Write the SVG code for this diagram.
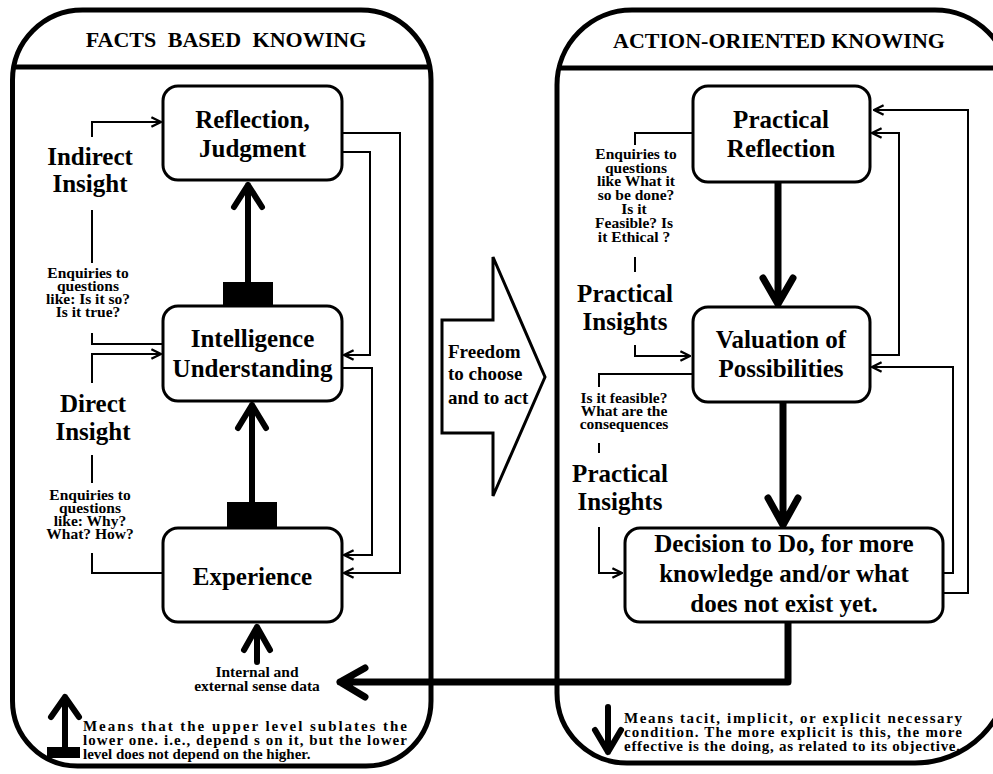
<svg xmlns="http://www.w3.org/2000/svg" width="993" height="774" viewBox="0 0 993 774">
<defs>
<style>
text{font-family:"Liberation Serif","Times New Roman",serif;font-weight:bold;fill:#000}
.hdr{font-size:22px;text-anchor:middle}
.nd{font-size:25px;text-anchor:middle}
.lb{font-size:25px;text-anchor:middle}
.sm{font-size:15.5px;text-anchor:middle}
.lg{font-size:15px}
.panel{fill:none;stroke:#000;stroke-width:5}
.box{fill:#fff;stroke:#000;stroke-width:3}
.thin{fill:none;stroke:#000;stroke-width:2}
.thick{fill:none;stroke:#000;stroke-width:6;stroke-linecap:round;stroke-linejoin:round}
.thick7{fill:none;stroke:#000;stroke-width:7;stroke-linecap:round;stroke-linejoin:round}
</style>
<marker id="ah" viewBox="0 0 10 10" refX="9" refY="5" markerWidth="12" markerHeight="12" markerUnits="userSpaceOnUse" orient="auto">
<path d="M1,1 L9,5 L1,9" fill="none" stroke="#000" stroke-width="2"/>
</marker>
</defs>
<rect width="993" height="774" fill="#fff"/>

<g id="panel-left">
<path class="panel" d="M82.5,10 H361 A70,70 0 0 1 431,80 V701 A65,65 0 0 1 366,766 H77.5 A65,65 0 0 1 12.5,701 V80 A70,70 0 0 1 82.5,10 Z"/>
<line class="panel" x1="12.5" y1="67" x2="431" y2="67"/>
<text class="hdr" x="226" y="47" word-spacing="6">FACTS BASED KNOWING</text>
</g>

<g id="panel-right">
<path class="panel" d="M632,10 H935 A75,75 0 0 1 1010,85 V668 A95,95 0 0 1 915,763 H627 A70,70 0 0 1 557,693 V85 A75,75 0 0 1 632,10 Z"/>
<line class="panel" x1="557" y1="68" x2="1010" y2="68"/>
<text class="hdr" x="779" y="48">ACTION-ORIENTED KNOWING</text>
</g>

<g id="connectors">
<path class="thin" d="M342,133 H400 V573 H344" marker-end="url(#ah)"/>
<path class="thin" d="M342,152 H370 V355 H344" marker-end="url(#ah)"/>
<path class="thin" d="M342,368 H372 V555 H344" marker-end="url(#ah)"/>
<path class="thin" d="M92,137 V122 H161" marker-end="url(#ah)"/>
<path class="thin" d="M92,210 V263"/>
<path class="thin" d="M92,333 V344 H163"/>
<path class="thin" d="M92,383 V354 H161" marker-end="url(#ah)"/>
<path class="thin" d="M92,455 V483"/>
<path class="thin" d="M92,553 V573 H163"/>
<path class="thick" d="M248,282 V185 M234,207 L248,185 L262,207"/>
<rect x="223" y="282" width="50" height="24" fill="#000"/>
<path class="thick" d="M252,502 V405 M238,428 L252,405 L266,428"/>
<rect x="227" y="502" width="50" height="26" fill="#000"/>
<path class="thick" d="M257,662 V627 M244,650 L257,627 L270,650"/>
<path class="thick7" d="M778,182 V304 M763,278 L778,304 L793,278"/>
<path class="thick7" d="M783,402 V525 M768,498 L783,525 L798,498"/>
<path class="thin" d="M870,355 H899 V133 H872" marker-end="url(#ah)"/>
<path class="thin" d="M943,573 H953 V367 H872" marker-end="url(#ah)"/>
<path class="thin" d="M943,593 H968 V110 H874" marker-end="url(#ah)"/>
<path class="thin" d="M693,133 H635 V145"/>
<path class="thin" d="M635,257 V272"/>
<path class="thin" d="M635,345 V356 H690" marker-end="url(#ah)"/>
<path class="thin" d="M693,374 H599 V387"/>
<path class="thin" d="M599,443 V453"/>
<path class="thin" d="M599,527 V573 H622" marker-end="url(#ah)"/>
<path class="thick7" d="M788,623 V682 H340 M365,668 L340,682 L365,697"/>
</g>

<g id="reflection">
<rect class="box" x="163" y="86" width="179" height="94" rx="15"/>
<text class="nd" x="252.5" y="128">Reflection,</text>
<text class="nd" x="252.5" y="157">Judgment</text>
</g>
<g id="intelligence">
<rect class="box" x="163" y="306" width="179" height="95" rx="15"/>
<text class="nd" x="252.5" y="347">Intelligence</text>
<text class="nd" x="252.5" y="377">Understanding</text>
</g>
<g id="experience">
<rect class="box" x="163" y="528" width="179" height="94" rx="15"/>
<text class="nd" x="252.5" y="585">Experience</text>
</g>

<g id="indirect-insight">
<text class="lb" x="90" y="165">Indirect</text>
<text class="lb" x="90" y="192">Insight</text>
</g>
<g id="enquiries-1">
<text class="sm" x="88" y="278">Enquiries to</text>
<text class="sm" x="88" y="291">questions</text>
<text class="sm" x="88" y="304">like: Is it so?</text>
<text class="sm" x="88" y="317">Is it true?</text>
</g>
<g id="direct-insight">
<text class="lb" x="93" y="412">Direct</text>
<text class="lb" x="93" y="440">Insight</text>
</g>
<g id="enquiries-2">
<text class="sm" x="90" y="500">Enquiries to</text>
<text class="sm" x="90" y="513">questions</text>
<text class="sm" x="90" y="526">like: Why?</text>
<text class="sm" x="90" y="539">What? How?</text>
</g>
<g id="sense-data">
<text class="sm" x="257" y="677">Internal and</text>
<text class="sm" x="257" y="691">external sense data</text>
</g>

<g id="legend-left">
<path class="thick" d="M65,747 V697 M51,717 L65,697 L79,717"/>
<rect x="47" y="747" width="33" height="11" fill="#000"/>
<text class="lg" x="83" y="731" textLength="324">Means that the upper level sublates the</text>
<text class="lg" x="83" y="745" textLength="324">lower one.  i.e.,  depend s on it, but the lower</text>
<text class="lg" x="83" y="759">level  does not depend on the higher.</text>
</g>

<g id="freedom">
<polygon points="442,320 493,320 493,257 545,377 493,496 493,433 442,433" fill="#fff" stroke="#000" stroke-width="3"/>
<text x="448" y="358" font-size="19">Freedom</text>
<text x="448" y="380" font-size="19">to choose</text>
<text x="448" y="404" font-size="19">and to act</text>
</g>

<g id="practical-reflection">
<rect class="box" x="693" y="86" width="177" height="96" rx="15"/>
<text class="nd" x="781" y="128">Practical</text>
<text class="nd" x="781" y="157">Reflection</text>
</g>
<g id="valuation">
<rect class="box" x="693" y="307" width="177" height="95" rx="15"/>
<text class="nd" x="781" y="348">Valuation of</text>
<text class="nd" x="781" y="377">Possibilities</text>
</g>
<g id="decision">
<rect class="box" x="625" y="528" width="318" height="94" rx="15"/>
<text class="nd" x="784" y="552">Decision to Do, for more</text>
<text class="nd" x="784" y="582">knowledge and/or what</text>
<text class="nd" x="784" y="612">does not exist yet.</text>
</g>

<g id="enquiries-3">
<text class="sm" x="636" y="159">Enquiries to</text>
<text class="sm" x="636" y="173">questions</text>
<text class="sm" x="636" y="186">like What it</text>
<text class="sm" x="636" y="200">so be done?</text>
<text class="sm" x="634" y="214">Is it</text>
<text class="sm" x="634" y="228">Feasible? Is</text>
<text class="sm" x="634" y="242">it Ethical ?</text>
</g>
<g id="practical-insights-1">
<text class="lb" x="625" y="302">Practical</text>
<text class="lb" x="625" y="330">Insights</text>
</g>
<g id="feasible">
<text class="sm" x="624" y="403">Is it feasible?</text>
<text class="sm" x="624" y="416">What are the</text>
<text class="sm" x="624" y="429">consequences</text>
</g>
<g id="practical-insights-2">
<text class="lb" x="620" y="482">Practical</text>
<text class="lb" x="620" y="510">Insights</text>
</g>

<g id="legend-right">
<path class="thick" d="M608,707 V752 M595,730 L608,752 L621,730"/>
<text class="lg" x="624" y="723" textLength="338">Means tacit, implicit, or explicit necessary</text>
<text class="lg" x="624" y="737" textLength="338">condition. The more explicit is this, the more</text>
<text class="lg" x="624" y="751" textLength="336">effective is the doing, as related to its objective.</text>
</g>
</svg>
